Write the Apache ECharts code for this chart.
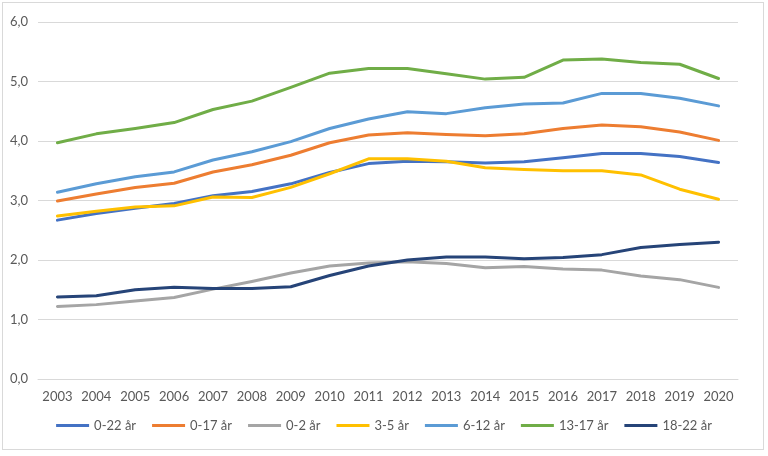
<!DOCTYPE html>
<html>
<head>
<meta charset="utf-8">
<script src="https://cdn.jsdelivr.net/npm/echarts@6/dist/echarts.min.js"></script>
<style>
html,body{margin:0;padding:0;background:#fff;}
#wrap{position:absolute;left:2px;top:2px;width:762px;height:448px;border:1px solid #d9d9d9;box-sizing:border-box;}
#chart{position:absolute;left:0;top:0;width:768px;height:456px;}
</style>
</head>
<body>
<div id="wrap"></div>
<div id="chart"></div>
<script>
const years = ['2003','2004','2005','2006','2007','2008','2009','2010','2011','2012','2013','2014','2015','2016','2017','2018','2019','2020'];
const s0_22 = [2.67,2.78,2.87,2.95,3.08,3.15,3.28,3.47,3.62,3.66,3.65,3.63,3.65,3.72,3.79,3.79,3.74,3.64];
const s0_17 = [2.99,3.11,3.22,3.29,3.48,3.60,3.76,3.97,4.10,4.14,4.11,4.09,4.12,4.21,4.27,4.24,4.15,4.01];
const s0_2  = [1.22,1.25,1.31,1.37,1.51,1.64,1.78,1.90,1.95,1.97,1.94,1.87,1.89,1.85,1.83,1.73,1.67,1.54];
const s3_5  = [2.74,2.82,2.89,2.91,3.06,3.05,3.22,3.45,3.70,3.70,3.66,3.55,3.52,3.50,3.50,3.43,3.19,3.02];
const s6_12 = [3.14,3.28,3.40,3.48,3.68,3.82,3.99,4.21,4.37,4.49,4.46,4.56,4.62,4.64,4.80,4.80,4.72,4.59];
const s13_17= [3.97,4.12,4.21,4.31,4.53,4.67,4.90,5.14,5.22,5.22,5.13,5.04,5.07,5.36,5.38,5.32,5.29,5.05];
const s18_22= [1.38,1.40,1.50,1.54,1.52,1.52,1.55,1.74,1.90,2.00,2.05,2.05,2.02,2.04,2.09,2.21,2.26,2.30];
const names = ['0-22 år','0-17 år','0-2 år','3-5 år','6-12 år','13-17 år','18-22 år'];
const colors = ['#4472C4','#ED7D31','#A5A5A5','#FFC000','#5B9BD5','#70AD47','#264478'];
const dataSets = [s0_22,s0_17,s0_2,s3_5,s6_12,s13_17,s18_22];

const chart = echarts.init(document.getElementById('chart'));
const font = 'Lato, "Open Sans", sans-serif';
chart.setOption({
  animation:false,
  color: colors,
  grid:{left:38,right:30,top:22,bottom:77,containLabel:false},
  legend:{
    bottom:19, left:'center',
    icon:'rect', itemWidth:33, itemHeight:3, itemGap:16,
    textStyle:{color:'#595959',fontSize:13,fontFamily:font},
    data:names
  },
  xAxis:{
    type:'category', data:years, boundaryGap:true,
    axisLine:{lineStyle:{color:'#d9d9d9'}},
    axisTick:{show:false},
    axisLabel:{color:'#595959',fontSize:13,fontFamily:font,margin:11,interval:0,hideOverlap:false}
  },
  yAxis:{
    type:'value', min:0, max:6, interval:1,
    axisLine:{show:false}, axisTick:{show:false},
    splitLine:{lineStyle:{color:'#d9d9d9',width:1}},
    axisLabel:{color:'#595959',fontSize:13,fontFamily:font,margin:10,
      formatter:v=>v.toFixed(1).replace('.',',')}
  },
  series: names.map((n,i)=>({
    name:n, type:'line', data:dataSets[i], symbol:'none', smooth:false,
    lineStyle:{width:3,color:colors[i],cap:'round',join:'round'},
    itemStyle:{color:colors[i]}
  }))
});
</script>
</body>
</html>
